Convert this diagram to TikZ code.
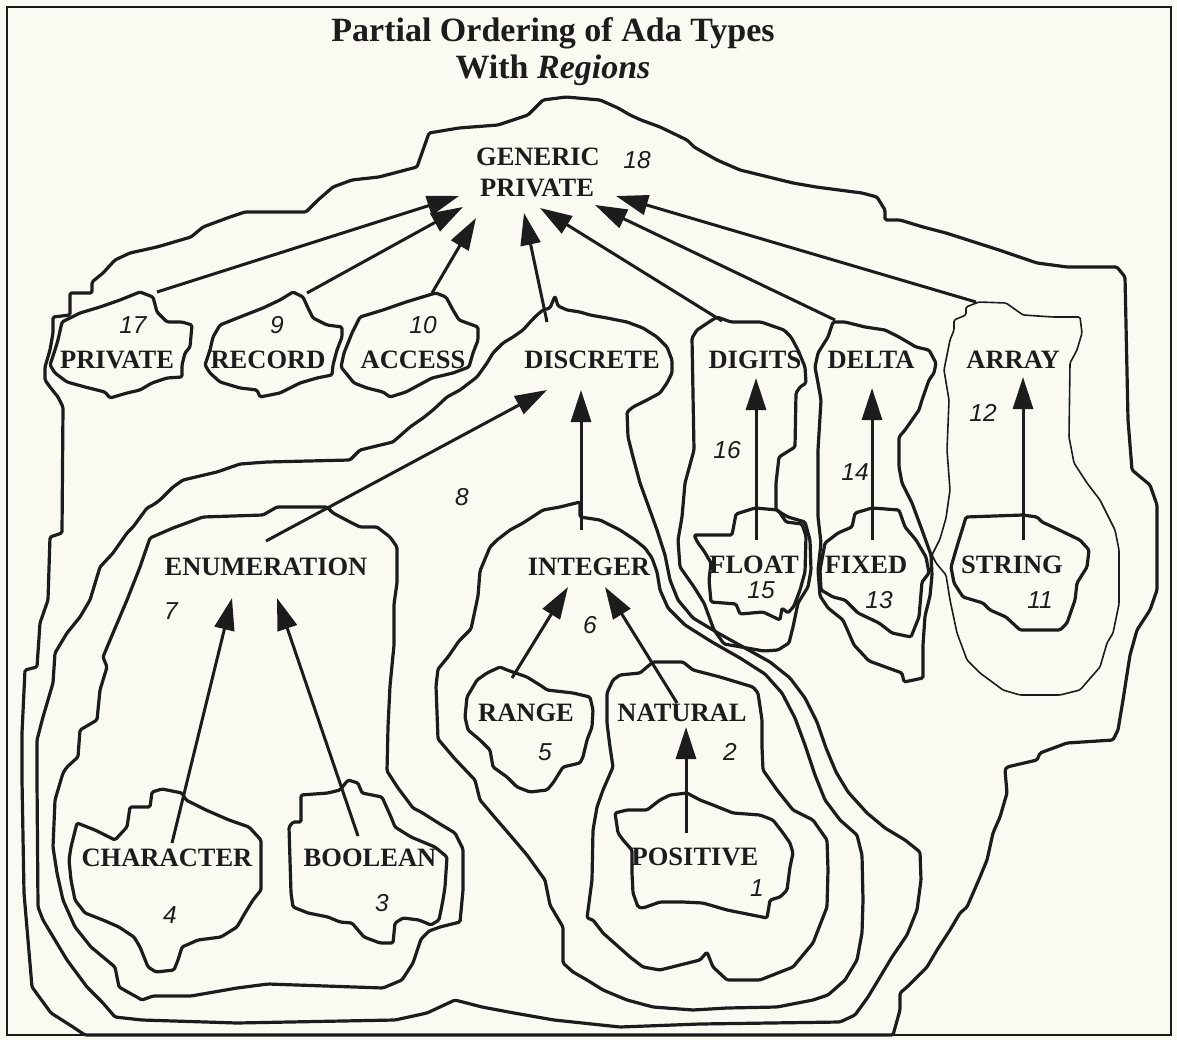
\documentclass[tikz,border=0pt]{standalone}
\usepackage{fontspec}
\setmainfont{Liberation Serif}
\newfontfamily\numfont{Liberation Sans}
\usetikzlibrary{arrows.meta}
\definecolor{bg}{RGB}{250,250,243}
\definecolor{ink}{RGB}{28,28,28}
\begin{document}
\begin{tikzpicture}[x=1pt,y=-1pt,
  region/.style={draw=ink,line width=3.2pt,line join=round,rounded corners=1.5pt},
  thinregion/.style={draw=ink,line width=1.6pt,line join=round,rounded corners=1.5pt},
  arr/.style={draw=ink,line width=3pt,-{Triangle[length=32pt,width=20pt]}},
  lbl/.style={font=\fontsize{26.5}{28}\selectfont\bfseries,text=ink,inner sep=0pt},
  num/.style={font=\fontsize{24.5}{26}\selectfont\numfont\itshape,text=ink,inner sep=0pt},
  ttl/.style={font=\fontsize{34}{36}\selectfont\bfseries,text=ink,inner sep=0pt}]
\useasboundingbox (0,0) rectangle (1177,1040);
\fill[bg] (0,0) rectangle (1177,1040);
\draw[ink,line width=2.5pt] (7,7) rectangle (1171,1035);

% ---------- region 18 ----------
\draw[region] (53,317)--(70,315)--(70,293)--(92,293)--(92,282)--(103,273)--(115,260)--(130,253)--(157,247)--(191,237)--(203,227)--(230,217)--(245,212)--(306,212)--(318,200)--(333,187)--(352,180)--(379,177)--(417,167)--(429,133)--(459,128)--(498,125)--(528,115)--(543,100)--(566,97)--(600,100)--(618,108)--(630,115)--(641,120)--(660,127)--(687,140)--(694,147)--(717,160)--(740,170)--(793,183)--(816,187)--(862,193)--(877,197)--(885,210)--(885,220)--(900,220)--(923,227)--(946,233)--(999,250)--(1037,263)--(1067,267)--(1117,267)--(1125,277)--(1128,420)--(1132,470)--(1150,485)--(1157,505)--(1157,590)--(1150,610)--(1137,630)--(1130,655)--(1123,700)--(1118,730)--(1113,740)--(1067,743)--(1040,753)--(1037,760)--(1007,767)--(1005,770)--(1007,793)--(1000,817)--(993,833)--(987,860)--(980,877)--(967,907)--(960,913)--(950,930)--(937,950)--(927,967)--(907,987)--(900,993)--(900,1010)--(893,1035)--(85,1035)--(73,1027)--(51,1013)--(32,987)--(24,893)--(22,780)--(22,733)--(25,670)--(37,667)--(40,623)--(48,600)--(50,537)--(62,533)--(63,407)--(58,397)--(50,387)--(45,380)--(45,367)--(50,350)--(53,333)--cycle;

% ---------- region 17, 9, 10 ----------
\draw[region] (62,322)--(80,313)--(100,307)--(120,300)--(140,292)--(153,297)--(157,312)--(167,322)--(182,322)--(192,325)--(190,347)--(185,353)--(182,365)--(182,377)--(167,378)--(152,383)--(140,390)--(127,393)--(110,398)--(105,392)--(85,387)--(67,382)--(55,373)--(50,365)--(55,350)--(58,340)--cycle;
\draw[region] (205,365)--(210,350)--(213,337)--(220,325)--(240,317)--(263,308)--(280,300)--(293,292)--(303,297)--(308,308)--(313,318)--(327,325)--(342,327)--(342,337)--(337,350)--(333,365)--(332,375)--(317,378)--(300,383)--(280,393)--(260,397)--(257,390)--(240,388)--(220,382)--(210,373)--cycle;
\draw[region] (341,367)--(344,353)--(352,333)--(360,317)--(383,310)--(406,302)--(429,295)--(436,293)--(446,297)--(453,310)--(459,320)--(478,327)--(478,340)--(473,353)--(469,367)--(453,373)--(432,378)--(406,392)--(390,397)--(383,392)--(367,388)--(354,383)--cycle;

% ---------- region 8 ----------
\draw[region] (543,310)--(550,308)--(555,296)--(558,306)--(567,310)--(580,312)--(590,315)--(607,318)--(627,322)--(643,328)--(657,337)--(667,347)--(672,360)--(672,373)--(667,383)--(660,393)--(647,400)--(633,407)--(627,412)--(628,437)--(633,457)--(640,483)--(648,505)--(657,530)--(665,555)--(670,580)--(678,600)--(693,618)--(718,633)--(745,648)--(770,662)--(790,678)--(805,698)--(817,722)--(826,748)--(836,772)--(848,792)--(867,813)--(885,828)--(905,840)--(920,852)--(921,880)--(917,910)--(907,935)--(892,957)--(880,977)--(868,997)--(855,1015)--(840,1022)--(700,1024)--(620,1027)--(554,1020)--(514,1013)--(482,1007)--(455,1000)--(427,1013)--(395,1020)--(237,1023)--(142,1020)--(115,1017)--(103,1003)--(87,987)--(67,960)--(55,940)--(43,920)--(38,907)--(37,780)--(37,740)--(43,717)--(53,683)--(55,653)--(67,633)--(80,617)--(90,600)--(100,567)--(113,553)--(127,533)--(133,527)--(147,508)--(153,505)--(160,500)--(167,493)--(173,487)--(183,480)--(200,476)--(217,472)--(240,464)--(267,462)--(350,460)--(360,450)--(393,442)--(410,427)--(423,418)--(433,410)--(447,397)--(460,390)--(477,377)--(487,363)--(493,353)--(503,343)--(513,337)--(523,330)--(532,320)--(537,315)--cycle;

% ---------- region 7 (enumeration) ----------
\draw[region] (150,538)--(173,528)--(203,517)--(263,515)--(277,507)--(327,507)--(333,513)--(350,522)--(360,527)--(377,527)--(390,537)--(397,547)--(397,583)--(394,604)--(394,645)--(390,686)--(388,727)--(387,771)--(398,788)--(413,808)--(421,812)--(440,824)--(455,833)--(463,849)--(463,890)--(460,922)--(440,927)--(429,931)--(421,939)--(413,963)--(402,980)--(383,988)--(268,984)--(237,988)--(191,996)--(153,996)--(142,1000)--(119,987)--(115,967)--(91,947)--(75,927)--(63,900)--(57,873)--(53,847)--(55,800)--(63,773)--(67,767)--(78,757)--(80,730)--(97,720)--(100,690)--(107,667)--(103,657)--(113,633)--(127,600)--(140,567)--cycle;

% ---------- region 4 (character), 3 (boolean) ----------
\draw[region] (71,847)--(77,823)--(95,830)--(115,840)--(127,827)--(130,807)--(150,807)--(152,792)--(162,789)--(182,793)--(186,800)--(206,810)--(229,820)--(249,827)--(261,840)--(261,890)--(253,900)--(245,913)--(237,927)--(221,937)--(198,940)--(182,947)--(178,960)--(174,970)--(156,972)--(148,967)--(140,947)--(134,937)--(119,927)--(103,920)--(85,913)--(75,900)--(71,880)--(69,860)--cycle;
\draw[region] (293,822)--(301,822)--(301,795)--(328,793)--(340,790)--(348,780)--(358,783)--(362,793)--(382,797)--(391,817)--(395,827)--(411,837)--(435,847)--(447,857)--(445,887)--(443,900)--(439,920)--(431,925)--(419,920)--(403,918)--(395,923)--(393,943)--(380,943)--(364,937)--(352,923)--(340,922)--(328,917)--(308,913)--(293,907)--(291,893)--(289,827)--cycle;

% ---------- region 6 (integer) ----------
\draw[region] (580,502)--(580,517)--(600,520)--(620,530)--(635,540)--(645,548)--(652,558)--(657,572)--(660,590)--(668,608)--(685,625)--(712,642)--(740,658)--(765,674)--(782,693)--(795,718)--(805,745)--(815,775)--(825,800)--(840,820)--(857,835)--(862,855)--(863,900)--(862,933)--(857,960)--(845,980)--(828,995)--(813,1000)--(777,1007)--(727,1008)--(693,1010)--(653,1007)--(627,1000)--(603,990)--(587,980)--(573,972)--(563,963)--(563,927)--(550,905)--(545,880)--(527,855)--(510,835)--(497,820)--(480,800)--(475,780)--(455,759)--(438,739)--(436,686)--(438,669)--(448,657)--(459,641)--(471,629)--(478,596)--(480,571)--(490,547)--(497,540)--(510,530)--(523,523)--(543,510)--(560,507)--cycle;

% ---------- region 5 (range), 2 (natural), 1 (positive) ----------
\draw[region] (465,717)--(467,697)--(477,680)--(487,673)--(500,667)--(507,670)--(527,677)--(543,687)--(547,690)--(573,693)--(590,697)--(593,710)--(592,727)--(587,740)--(583,757)--(580,763)--(563,767)--(553,783)--(547,790)--(530,792)--(517,787)--(507,777)--(493,767)--(490,750)--(480,740)--(468,730)--cycle;
\draw[region] (607,693)--(613,680)--(620,675)--(640,673)--(647,667)--(653,662)--(683,662)--(693,670)--(720,677)--(753,687)--(758,693)--(762,720)--(762,747)--(763,770)--(777,790)--(793,810)--(813,820)--(827,840)--(828,870)--(827,907)--(813,943)--(793,967)--(760,980)--(727,980)--(713,967)--(707,952)--(700,960)--(660,970)--(643,967)--(630,957)--(603,933)--(593,920)--(587,918)--(592,880)--(593,830)--(597,807)--(603,790)--(613,767)--(610,747)--(607,723)--cycle;
\draw[region] (615,813)--(627,810)--(647,810)--(660,800)--(670,795)--(687,793)--(700,800)--(713,805)--(733,813)--(760,815)--(773,820)--(783,833)--(790,843)--(793,853)--(790,867)--(787,890)--(780,897)--(770,900)--(767,918)--(727,910)--(703,903)--(683,902)--(660,902)--(643,908)--(638,907)--(633,893)--(632,873)--(632,850)--(623,840)--(618,833)--cycle;

% ---------- region 16 (digits), 15 (float) ----------
\draw[region] (692,338)--(697,330)--(709,322)--(717,317)--(731,322)--(761,322)--(784,330)--(791,337)--(798,350)--(805,367)--(806,383)--(800,387)--(796,393)--(795,447)--(779,457)--(776,483)--(776,510)--(788,517)--(805,522)--(810,540)--(811,570)--(808,587)--(798,603)--(793,627)--(789,643)--(778,650)--(764,651)--(724,644)--(714,630)--(704,603)--(694,587)--(680,567)--(678,540)--(682,517)--(685,483)--(694,450)--cycle;
\draw[region] (694,535)--(732,535)--(736,514)--(755,508)--(778,510)--(786,522)--(802,524)--(806,536)--(805,572)--(800,590)--(794,606)--(788,613)--(782,608)--(780,620)--(763,612)--(740,614)--(736,604)--(711,602)--(709,580)--(711,563)--(704,551)--(698,543)--cycle;

% ---------- region 14 (delta), 13 (fixed) ----------
\draw[region] (833,322)--(845,322)--(865,327)--(885,330)--(899,337)--(916,347)--(929,350)--(936,363)--(934,373)--(929,380)--(922,400)--(919,410)--(905,430)--(899,437)--(899,467)--(902,483)--(912,503)--(922,530)--(931,555)--(932,575)--(930,596)--(925,616)--(923,645)--(923,678)--(904,682)--(902,673)--(869,661)--(854,645)--(843,620)--(828,608)--(820,596)--(818,570)--(821,543)--(818,517)--(818,483)--(818,450)--(821,400)--(818,383)--(815,367)--(818,353)--(828,337)--cycle;
\draw[region] (825,543)--(838,533)--(852,527)--(855,513)--(872,508)--(899,510)--(905,527)--(916,540)--(926,557)--(929,573)--(922,582)--(919,617)--(911,637)--(892,633)--(879,623)--(858,613)--(845,600)--(833,597)--(821,590)--(820,570)--cycle;

% ---------- region 12 (array, thin), 11 (string) ----------
\draw[thinregion] (954,320)--(966,315)--(966,307)--(979,302)--(1006,303)--(1023,315)--(1053,317)--(1080,317)--(1082,333)--(1077,350)--(1070,363)--(1069,437)--(1074,463)--(1087,483)--(1100,500)--(1115,530)--(1119,550)--(1119,604)--(1113,633)--(1107,643)--(1100,667)--(1080,690)--(1060,695)--(1020,695)--(1003,690)--(980,673)--(967,660)--(957,633)--(950,600)--(946,575)--(936,563)--(932,555)--(940,539)--(946,518)--(950,490)--(947,450)--(949,400)--(944,370)--(950,340)--(954,330)--cycle;
\draw[region] (954,583)--(951,567)--(958,543)--(963,527)--(966,517)--(1023,515)--(1037,517)--(1042,522)--(1053,527)--(1080,540)--(1089,550)--(1087,567)--(1077,583)--(1075,600)--(1067,623)--(1060,630)--(1020,630)--(1006,617)--(990,610)--(983,603)--(973,600)--(963,597)--cycle;

% ---------- title ----------
\node[ttl] (title1) at (553,33) {Partial Ordering of Ada Types};
\node[ttl] (title2) at (553,70) {With \textit{Regions}};

% ---------- labels ----------
\node[lbl] (generic) at (538,157) {GENERIC};
\node[lbl] (genpriv) at (537,188) {PRIVATE};
\node[num] (n18) at (637,160) {18};
\node[lbl] (private) at (117,360) {PRIVATE};
\node[num] (n17) at (133,325) {17};
\node[lbl] (record) at (268,360) {RECORD};
\node[num] (n9) at (277,325) {9};
\node[lbl] (access) at (413,360) {ACCESS};
\node[num] (n10) at (423,325) {10};
\node[lbl] (discrete) at (592,360) {DISCRETE};
\node[lbl] (digits) at (755,360) {DIGITS};
\node[lbl] (delta) at (871,360) {DELTA};
\node[lbl] (array) at (1013,360) {ARRAY};
\node[num] (n12) at (983,413) {12};
\node[num] (n16) at (727,450) {16};
\node[num] (n14) at (855,472) {14};
\node[num] (n8) at (462,497) {8};
\node[lbl] (enum) at (266,567) {ENUMERATION};
\node[num] (n7) at (171,611) {7};
\node[lbl] (integer) at (589,567) {INTEGER};
\node[num] (n6) at (590,625) {6};
\node[lbl] (float) at (754,565) {FLOAT};
\node[num] (n15) at (761,590) {15};
\node[lbl] (fixed) at (866,565) {FIXED};
\node[num] (n13) at (879,600) {13};
\node[lbl] (string) at (1012,565) {STRING};
\node[num] (n11) at (1040,600) {11};
\node[lbl] (range) at (526,713) {RANGE};
\node[num] (n5) at (545,752) {5};
\node[lbl] (natural) at (682,713) {NATURAL};
\node[num] (n2) at (730,752) {2};
\node[lbl] (positive) at (695,857) {POSITIVE};
\node[num] (n1) at (757,888) {1};
\node[lbl] (character) at (167,858) {CHARACTER};
\node[num] (n4) at (170,915) {4};
\node[lbl] (boolean) at (370,858) {BOOLEAN};
\node[num] (n3) at (382,903) {3};

% ---------- arrow end points ----------
\coordinate (t17) at (157,292);  \coordinate (h17) at (459,196);
\coordinate (t9) at (307,293);   \coordinate (h9) at (463,207);
\coordinate (t10) at (432,293);  \coordinate (h10) at (476,218);
\coordinate (tdis) at (547,322); \coordinate (hdis) at (524,213);
\coordinate (tdig) at (722,321); \coordinate (hdig) at (540,208);
\coordinate (tdel) at (835,320); \coordinate (hdel) at (595,205);
\coordinate (tarr) at (976,302); \coordinate (harr) at (616,196);
\coordinate (tenu) at (266,541); \coordinate (henu) at (547,390);
\coordinate (tint) at (581,530); \coordinate (hint) at (581,390);
\coordinate (tflo) at (756,540); \coordinate (hflo) at (756,378);
\coordinate (tfix) at (872,540); \coordinate (hfix) at (872,388);
\coordinate (tstr) at (1023,540);\coordinate (hstr) at (1023,377);
\coordinate (tcha) at (172,843); \coordinate (hcha) at (232,598);
\coordinate (tboo) at (358,836); \coordinate (hboo) at (277,598);
\coordinate (tran) at (512,678); \coordinate (hran) at (568,587);
\coordinate (tnat) at (677,703); \coordinate (hnat) at (605,587);
\coordinate (tpos) at (686,833); \coordinate (hpos) at (686,727);

\foreach \a in {17,9,10,dis,dig,del,arr,enu,int,flo,fix,str,cha,boo,ran,nat,pos}
  \draw[arr] (t\a) -- (h\a);
\end{tikzpicture}
\end{document}
